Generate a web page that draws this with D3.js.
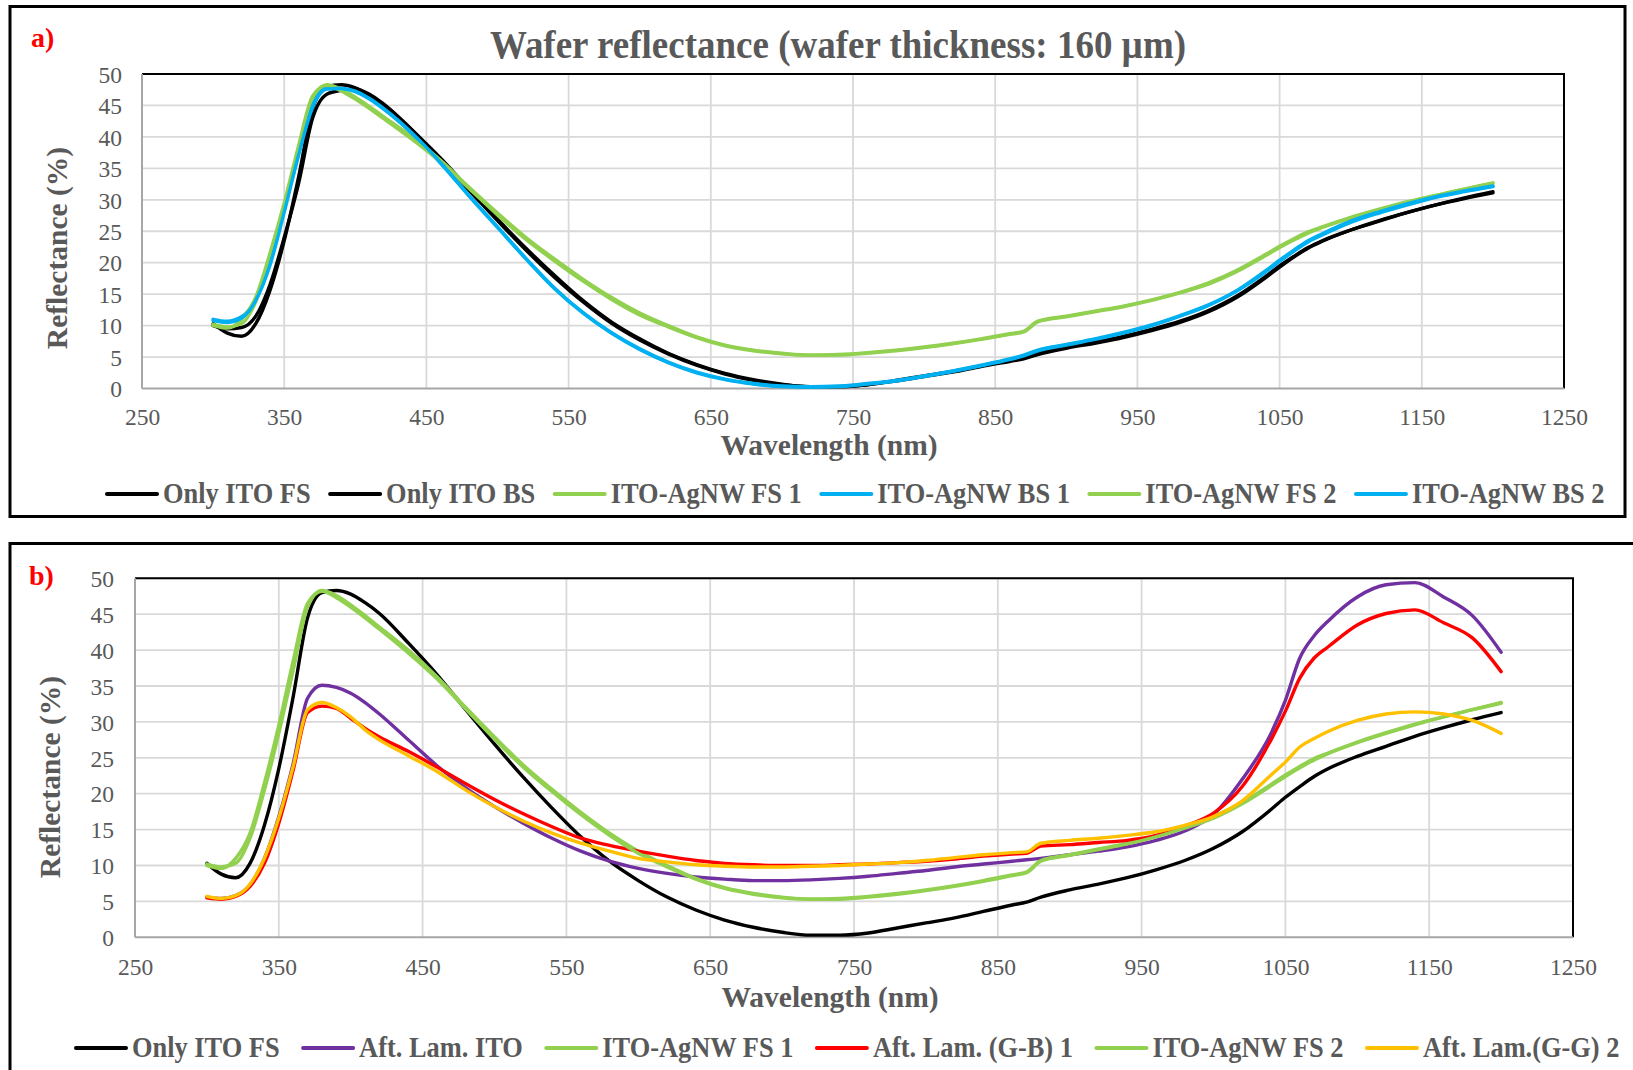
<!DOCTYPE html>
<html><head><meta charset="utf-8">
<script src="https://cdn.jsdelivr.net/npm/d3@7"></script>
<style>body{margin:0;background:#fff}svg{display:block}</style>
</head><body>
<script>
// ---------- DATA ----------
const wavelengths = [300,310,320,330,340,350,360,370,380,390,400,410,420,
  440,460,480,500,520,540,560,580,600,620,640,660,680,700,720,740,760,780,800,820,840,860,
  870,880,
  900,920,940,960,980,1000,1020,1040,1050,1060,1070,1080,1100,1120,1140,1160,1180,1200];

const onlyItoFS = [10.3,8.8,8.3,10.3,15.6,23.5,33.5,44.5,48.0,48.3,47.8,46.6,45.1,
  41.0,36.6,31.7,26.9,22.3,18.0,14.0,10.6,7.9,5.6,3.8,2.4,1.4,0.7,0.3,0.3,0.6,1.3,2.0,2.7,3.6,4.5,
  4.9,5.6,
  6.6,7.4,8.3,9.4,10.7,12.4,14.7,17.8,19.5,21.0,22.4,23.5,25.2,26.6,28.0,29.2,30.3,31.3];
const onlyItoBS = [10.0,9.5,9.7,11.5,16.5,24.0,32.5,43.0,46.8,47.4,47.6,46.8,45.2,
  41.1,36.4,31.5,26.7,22.0,17.7,13.8,10.4,7.7,5.5,3.7,2.3,1.3,0.6,0.3,0.3,0.6,1.2,1.9,2.6,3.5,4.3,
  4.7,5.4,
  6.4,7.2,8.1,9.2,10.5,12.2,14.5,17.6,19.3,20.9,22.3,23.4,25.2,26.7,28.0,29.2,30.2,31.1];
const agnwFS1 = [10.2,9.8,10.3,13.8,20.5,28.4,37.2,46.0,48.3,47.6,46.3,44.8,43.2,
  40.0,36.3,32.0,27.9,24.0,20.6,17.4,14.5,12.0,10.0,8.2,6.9,6.1,5.6,5.3,5.4,5.7,6.1,6.6,7.2,7.9,8.7,
  9.1,10.7,
  11.5,12.3,13.1,14.1,15.3,16.8,18.8,21.3,22.6,23.8,24.9,25.7,27.2,28.5,29.7,30.7,31.7,32.6];
const agnwFS2 = [10.0,9.6,11.0,14.5,21.5,29.5,38.5,46.5,48.2,47.3,46.0,44.5,42.9,
  39.6,36.0,31.8,27.6,23.7,20.3,17.1,14.2,11.7,9.8,8.1,6.8,6.0,5.5,5.3,5.3,5.6,6.0,6.5,7.1,7.8,8.6,
  9.0,10.6,
  11.4,12.2,13.0,14.0,15.2,16.6,18.6,21.1,22.4,23.6,24.7,25.6,27.1,28.4,29.6,30.7,31.7,32.7];
const agnwBS1 = [11.0,10.7,11.4,14.2,20.0,28.5,37.5,45.0,47.8,47.7,47.2,46.0,44.4,
  40.5,35.8,30.6,25.6,20.6,15.9,12.0,8.8,6.2,4.1,2.5,1.4,0.7,0.3,0.2,0.3,0.7,1.2,1.9,2.7,3.6,4.6,
  5.2,6.0,
  6.9,7.8,8.8,10.0,11.5,13.2,15.5,18.5,20.2,21.8,23.3,24.4,26.4,27.9,29.2,30.4,31.3,32.1];
const agnwBS2 = [10.8,10.5,11.2,14.0,19.6,28.0,37.0,44.7,47.6,47.7,47.3,46.1,44.5,
  40.6,35.9,30.7,25.7,20.7,16.0,12.1,8.9,6.3,4.2,2.6,1.5,0.8,0.4,0.3,0.4,0.8,1.3,2.0,2.8,3.7,4.7,
  5.3,6.1,
  7.0,7.9,8.9,10.1,11.6,13.3,15.6,18.7,20.4,22.0,23.5,24.6,26.6,28.1,29.4,30.5,31.4,32.2];
const aftLamITO = [5.6,5.4,5.8,7.3,11.0,16.8,24.2,33.3,35.1,34.8,34.0,32.7,31.1,
  27.5,23.9,20.8,18.2,15.9,13.8,12.0,10.6,9.6,8.9,8.4,8.1,7.9,7.9,8.0,8.2,8.5,8.9,9.3,9.8,10.2,10.6,
  10.8,11.0,
  11.5,12.0,12.6,13.5,14.8,17.1,22.0,28.4,33.0,38.9,42.0,44.1,47.4,49.1,49.4,47.4,44.8,39.7];
const aftLamGB1 = [5.5,5.3,5.7,7.1,10.3,15.9,23.3,31.3,32.2,31.9,30.5,29.1,27.9,
  25.9,23.7,21.4,19.2,17.2,15.4,13.8,12.8,12.0,11.3,10.7,10.3,10.1,10.0,10.0,10.1,10.2,10.4,10.6,10.9,11.3,11.6,
  11.7,12.7,
  12.9,13.2,13.5,14.2,15.5,17.3,21.0,27.5,31.5,36.1,38.9,40.5,43.5,45.1,45.6,43.8,41.7,37.0];
const aftLamGG2 = [5.7,5.4,5.8,7.4,11.0,16.6,23.8,31.7,32.7,32.0,30.7,28.9,27.5,
  25.3,23.1,20.5,18.2,16.2,14.5,13.1,12.0,11.0,10.5,10.1,9.9,9.8,9.8,9.9,10.0,10.2,10.4,10.7,11.1,11.5,11.8,
  11.9,13.1,
  13.5,13.8,14.2,14.7,15.6,16.8,19.0,22.6,24.4,26.5,27.7,28.7,30.2,31.1,31.4,31.1,30.2,28.4];

const xTicks = [250,350,450,550,650,750,850,950,1050,1150,1250];
const yTicks = [0,5,10,15,20,25,30,35,40,45,50];

const seriesNamesA = ["Only ITO FS","Only ITO BS","ITO-AgNW FS 1","ITO-AgNW BS 1","ITO-AgNW FS 2","ITO-AgNW BS 2"];
const seriesDataA = [onlyItoFS, onlyItoBS, agnwFS1, agnwBS1, agnwFS2, agnwBS2];
const seriesNamesB = ["Only ITO FS","Aft. Lam. ITO","ITO-AgNW FS 1","Aft. Lam. (G-B) 1","ITO-AgNW FS 2","Aft. Lam.(G-G) 2"];
const seriesDataB = [onlyItoFS, aftLamITO, agnwFS1, aftLamGB1, agnwFS2, aftLamGG2];

const BLACK="#000000", GREEN="#92D050", BLUE="#00B0F0", PURPLE="#7030A0", RED="#FF0000", ORANGE="#FFC000";
const colorsA = [BLACK, BLACK, GREEN, BLUE, GREEN, BLUE];
const colorsB = [BLACK, PURPLE, GREEN, RED, GREEN, ORANGE];

// ---------- DRAW ----------
const W = 1633, H = 1070;
const FONT = "'Liberation Serif','Times New Roman',serif";
const GRAY = "#595959";
const svg = d3.select("body").append("svg").attr("width", W).attr("height", H)
  .style("background","#fff");

// panel frames
svg.append("rect").attr("x",10).attr("y",6.5).attr("width",1615).attr("height",510)
  .attr("fill","none").attr("stroke","#000").attr("stroke-width",3);
svg.append("rect").attr("x",10).attr("y",543.5).attr("width",1640).attr("height",600)
  .attr("fill","none").attr("stroke","#000").attr("stroke-width",3);

function squeezedText(g, x, y, txt, opts) {
  const gg = g.append("g").attr("transform", `translate(${x},${y}) scale(${opts.sx||1},1)`);
  const t = gg.append("text").attr("x",0).attr("y",0)
    .attr("font-family",FONT).attr("font-size",opts.size).attr("font-weight",opts.weight||"normal")
    .attr("fill",opts.fill||GRAY).attr("text-anchor",opts.anchor||"start").text(txt);
  return {g:gg, t, w: t.node().getComputedTextLength()*(opts.sx||1)};
}

function panel(cfg) {
  const g = svg.append("g");
  const x = d3.scaleLinear().domain([250,1250]).range([cfg.left, cfg.right]);
  const y = d3.scaleLinear().domain([0,50]).range([cfg.bottom, cfg.top]);

  // gridlines
  g.append("g").selectAll("line.h").data(yTicks.slice(1)).join("line")
    .attr("x1",cfg.left).attr("x2",cfg.right).attr("y1",d=>y(d)).attr("y2",d=>y(d))
    .attr("stroke","#D9D9D9").attr("stroke-width",1.8);
  g.append("g").selectAll("line.v").data(xTicks.slice(1,-1)).join("line")
    .attr("x1",d=>x(d)).attr("x2",d=>x(d)).attr("y1",cfg.top).attr("y2",cfg.bottom)
    .attr("stroke","#D9D9D9").attr("stroke-width",1.8);

  // frame: top/right black, left/bottom gray
  g.append("line").attr("x1",cfg.left).attr("x2",cfg.right+1).attr("y1",cfg.top).attr("y2",cfg.top)
    .attr("stroke","#000").attr("stroke-width",2);
  g.append("line").attr("x1",cfg.right).attr("x2",cfg.right).attr("y1",cfg.top).attr("y2",cfg.bottom)
    .attr("stroke","#000").attr("stroke-width",2);
  g.append("line").attr("x1",cfg.left).attr("x2",cfg.left).attr("y1",cfg.top).attr("y2",cfg.bottom)
    .attr("stroke","#A6A6A6").attr("stroke-width",2);
  g.append("line").attr("x1",cfg.left).attr("x2",cfg.right).attr("y1",cfg.bottom).attr("y2",cfg.bottom)
    .attr("stroke","#A6A6A6").attr("stroke-width",2);

  // axes (labels only)
  const ax = g.append("g").attr("transform",`translate(0,${cfg.bottom})`)
    .call(d3.axisBottom(x).tickValues(xTicks).tickSize(0).tickFormat(d3.format("d")));
  ax.select(".domain").remove();
  ax.selectAll("text").attr("y",cfg.xLabelOff).attr("dy","0.35em")
    .attr("font-family",FONT).attr("font-size",23.5).attr("fill",GRAY);
  const ay = g.append("g").attr("transform",`translate(${cfg.left},0)`)
    .call(d3.axisLeft(y).tickValues(yTicks).tickSize(0).tickFormat(d3.format("d")));
  ay.select(".domain").remove();
  ay.selectAll("text").attr("x",-cfg.yLabelPad).attr("dy","0.35em")
    .attr("font-family",FONT).attr("font-size",23.5).attr("fill",GRAY);

  // lines
  const line = d3.line().x((d,i)=>x(wavelengths[i])).y(d=>y(d)).curve(d3.curveMonotoneX);
  cfg.data.forEach((arr,i)=>{
    g.append("path").attr("d",line(arr)).attr("fill","none").attr("stroke",cfg.colors[i])
      .attr("stroke-width",3.4).attr("stroke-linejoin","round").attr("stroke-linecap","round");
  });

  // axis titles
  g.append("text").attr("x",cfg.xTitleX).attr("y",cfg.xTitleY).attr("text-anchor","middle")
    .attr("font-family",FONT).attr("font-size",29.5).attr("font-weight","bold").attr("fill",GRAY)
    .text("Wavelength (nm)");
  g.append("text").attr("transform",`translate(${cfg.yTitleX},${cfg.yTitleY}) rotate(-90)`)
    .attr("text-anchor","middle")
    .attr("font-family",FONT).attr("font-size",29.5).attr("font-weight","bold").attr("fill",GRAY)
    .text("Reflectance (%)");

  // panel letter
  g.append("text").attr("x",cfg.letterX).attr("y",cfg.letterY)
    .attr("font-family",FONT).attr("font-size",28).attr("font-weight","bold").attr("fill","#FF0000")
    .text(cfg.letter);

  // legend
  let lx = cfg.legendX;
  cfg.names.forEach((nm,i)=>{
    g.append("line").attr("x1",lx).attr("x2",lx+50).attr("y1",cfg.legendY).attr("y2",cfg.legendY)
      .attr("stroke",cfg.colors[i]).attr("stroke-width",4).attr("stroke-linecap","round");
    const r = squeezedText(g, lx+56, cfg.legendY+9, nm, {size:29, weight:"bold", sx:0.91});
    lx += 56 + r.w + cfg.legendGap;
  });
  return g;
}

panel({left:142, right:1564, top:74, bottom:388.5, xLabelOff:28.5, yLabelPad:20,
  xTitleX:829, xTitleY:455, yTitleX:67, yTitleY:248,
  letter:"a)", letterX:31, letterY:47,
  legendX:107, legendY:494, legendGap:19.5,
  names:seriesNamesA, data:seriesDataA, colors:colorsA});

panel({left:135, right:1573, top:578.3, bottom:937.3, xLabelOff:29, yLabelPad:21,
  xTitleX:830, xTitleY:1007, yTitleX:60, yTitleY:777,
  letter:"b)", letterX:29, letterY:585,
  legendX:76, legendY:1048, legendGap:23.5,
  names:seriesNamesB, data:seriesDataB, colors:colorsB});

// main title
squeezedText(svg, 838, 58, "Wafer reflectance (wafer thickness: 160 µm)",
  {size:40, weight:"bold", sx:0.925, anchor:"middle"});
</script>
</body></html>
